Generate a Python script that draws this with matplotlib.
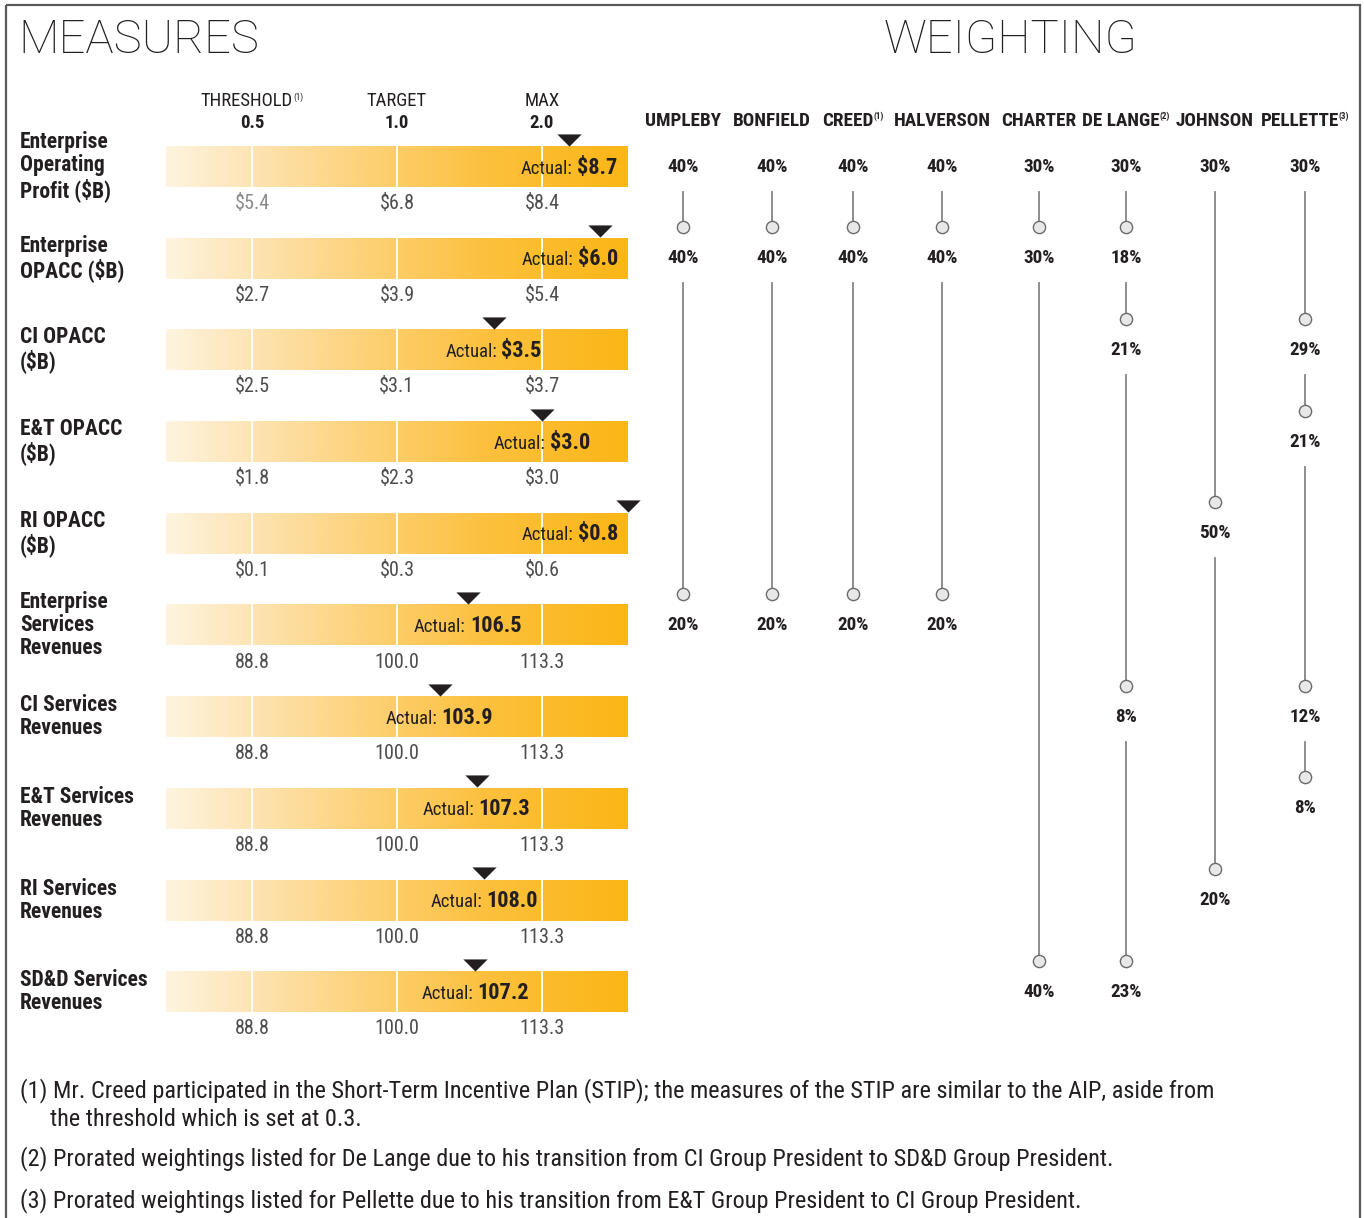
import numpy as np
import matplotlib
matplotlib.use("Agg")
import matplotlib.pyplot as plt
import matplotlib.font_manager as fm
from collections import defaultdict
from matplotlib.colors import LinearSegmentedColormap
from matplotlib.offsetbox import TextArea, HPacker, AnnotationBbox
from matplotlib.patches import Rectangle

# ---------------- data ----------------
measures = [
    "Enterprise\nOperating\nProfit ($B)",
    "Enterprise\nOPACC ($B)",
    "CI OPACC\n($B)",
    "E&T OPACC\n($B)",
    "RI OPACC\n($B)",
    "Enterprise\nServices\nRevenues",
    "CI Services\nRevenues",
    "E&T Services\nRevenues",
    "RI Services\nRevenues",
    "SD&D Services\nRevenues",
]
is_dollar = [True, True, True, True, True, False, False, False, False, False]
threshold = [5.4, 2.7, 2.5, 1.8, 0.1, 88.8, 88.8, 88.8, 88.8, 88.8]
target = [6.8, 3.9, 3.1, 2.3, 0.3, 100.0, 100.0, 100.0, 100.0, 100.0]
maximum = [8.4, 5.4, 3.7, 3.0, 0.6, 113.3, 113.3, 113.3, 113.3, 113.3]
actual = [8.7, 6.0, 3.5, 3.0, 0.8, 106.5, 103.9, 107.3, 108.0, 107.2]

levels = ["THRESHOLD", "TARGET", "MAX"]
level_notes = ["(1)", "", ""]
payouts = ["0.5", "1.0", "2.0"]

people = ["UMPLEBY", "BONFIELD", "CREED", "HALVERSON", "CHARTER", "DE LANGE", "JOHNSON", "PELLETTE"]
people_notes = ["", "", "(1)", "", "", "(2)", "", "(3)"]
# measure index where each weighting starts, and the weighting itself
weight_rows = [
    [0, 1, 5],
    [0, 1, 5],
    [0, 1, 5],
    [0, 1, 5],
    [0, 1, 9],
    [0, 1, 2, 6, 9],
    [0, 4, 8],
    [0, 2, 3, 6, 7],
]
weight_pct = [
    [40, 40, 20],
    [40, 40, 20],
    [40, 40, 20],
    [40, 40, 20],
    [30, 30, 40],
    [30, 18, 21, 8, 23],
    [30, 50, 20],
    [30, 29, 21, 12, 8],
]

footnotes = [
    "(1) Mr. Creed participated in the Short-Term Incentive Plan (STIP); the measures of the STIP are similar to the AIP, aside from",
    "the threshold which is set at 0.3.",
    "(2) Prorated weightings listed for De Lange due to his transition from CI Group President to SD&D Group President.",
    "(3) Prorated weightings listed for Pellette due to his transition from E&T Group President to CI Group President.",
]

# ---------------- fonts ----------------
weights_by_family = defaultdict(set)
for f in fm.fontManager.ttflist:
    weights_by_family[f.name].add(f.weight)


def has_bold(name):
    w = weights_by_family.get(name, set())
    return any(x in (400, "normal", "regular") for x in w) and any(x in (700, "bold") for x in w)


preferred = ["Roboto Condensed", "Fira Sans Condensed", "PT Sans Narrow", "Archivo Narrow",
             "IBM Plex Sans Condensed", "Encode Sans Condensed", "Asap Condensed",
             "Barlow Semi Condensed", "Liberation Sans Narrow"]
narrow = next((n for n in preferred if has_bold(n)), None)
if narrow is None:
    narrow = next((n for n in sorted(weights_by_family)
                   if ("Condensed" in n or "Narrow" in n) and has_bold(n)), "Roboto")
NARROW = dict(family=narrow)
TITLE_FONT = "Roboto" if "Roboto" in weights_by_family else "DejaVu Sans"
INK = "#231f20"

# ---------------- layout (pixels) ----------------
W, H = 1364, 1218
X_LEVELS = [252, 397, 542]
BAR_L, BAR_R = 166, 628
ROW0, ROW_STEP, BAR_H = 166.5, 91.7, 41
COL_X = [683, 772, 853, 942, 1039, 1126, 1215, 1305]

fig = plt.figure(figsize=(W / 100, H / 100), dpi=100)
ax = fig.add_axes([0, 0, 1, 1])

bar_cmap = LinearSegmentedColormap.from_list(
    "bar", [(0, "#fef4df"), (0.2, "#fde3b0"), (0.45, "#fdd073"),
            (0.7, "#fcc03c"), (1, "#fbb616")])
gradient = np.linspace(0, 1, 256).reshape(1, -1)


def to_x(v, thr, tgt, mx):
    if v <= tgt:
        x = X_LEVELS[0] + (v - thr) / (tgt - thr) * (X_LEVELS[1] - X_LEVELS[0])
    else:
        x = X_LEVELS[1] + (v - tgt) / (mx - tgt) * (X_LEVELS[2] - X_LEVELS[1])
    return min(max(x, BAR_L), BAR_R)


def fmt(v, dollar):
    return f"${v:.1f}" if dollar else f"{v:.1f}"


def label_with_note(text, note, xy, size, weight, note_size, color=INK):
    parts = [TextArea(text, textprops=dict(size=size, weight=weight, color=color, **NARROW))]
    if note:
        parts.append(TextArea(note, textprops=dict(size=note_size, weight=weight, color=color, **NARROW)))
    box = HPacker(children=parts, align="top", pad=0, sep=0)
    ax.add_artist(AnnotationBbox(box, xy, frameon=False, pad=0, box_alignment=(0.5, 0.5)))


# titles
ax.text(18, 40, "MEASURES", fontsize=34, family=TITLE_FONT, weight="light", color=INK, va="center")
ax.text(884, 40, "WEIGHTING", fontsize=34, family=TITLE_FONT, weight="light", color=INK, va="center")

# level headers
for x, lev, note, pay in zip(X_LEVELS, levels, level_notes, payouts):
    label_with_note(lev, note, (x, 101), 13.5, "normal", 6.5)
    ax.text(x, 123, pay, fontsize=13.5, weight="bold", color=INK, ha="center", va="center", **NARROW)

# measure rows
for i, name in enumerate(measures):
    y = ROW0 + i * ROW_STEP
    ax.text(20, y, name, fontsize=15.5, weight="bold", color=INK, va="center",
            linespacing=1.07, **NARROW)
    ax.imshow(gradient, cmap=bar_cmap, aspect="auto",
              extent=(BAR_L, BAR_R, y + BAR_H / 2, y - BAR_H / 2), zorder=1)

    thr, tgt, mx = threshold[i], target[i], maximum[i]
    for v in (thr, tgt, mx):
        xv = to_x(v, thr, tgt, mx)
        ax.plot([xv, xv], [y - BAR_H / 2, y + BAR_H / 2], color="white", lw=1.3, zorder=2)
    for k, v in enumerate((thr, tgt, mx)):
        col = "#8a8a8a" if (i == 0 and k == 0) else "#4d4d4d"
        ax.text(to_x(v, thr, tgt, mx), y + 37, fmt(v, is_dollar[i]), fontsize=14.5,
                color=col, ha="center", va="center", **NARROW)

    xa = to_x(actual[i], thr, tgt, mx)
    ax.plot(xa, y - BAR_H / 2 - 6.5, marker=[(-1, 0.5), (1, 0.5), (0, -0.5)],
            markersize=17.5, color=INK, mew=0, zorder=3)

    box = HPacker(children=[
        TextArea("Actual:", textprops=dict(size=13.5, color=INK, **NARROW)),
        TextArea(fmt(actual[i], is_dollar[i]), textprops=dict(size=16, weight="bold", color=INK, **NARROW)),
    ], align="baseline", pad=0, sep=3)
    if xa > 575:
        ab = AnnotationBbox(box, (618, y + 1), frameon=False, pad=0, box_alignment=(1, 0.5))
    else:
        ab = AnnotationBbox(box, (xa, y + 1), frameon=False, pad=0, box_alignment=(0.5, 0.5))
    ab.set_zorder(4)
    ax.add_artist(ab)

# weighting columns
for x, person, note, rows, pcts in zip(COL_X, people, people_notes, weight_rows, weight_pct):
    label_with_note(person, note, (x, 121), 13.8, "bold", 6.5)
    ys = [ROW0 + r * ROW_STEP for r in rows]
    for j, (yy, p) in enumerate(zip(ys, pcts)):
        ax.text(x, yy, f"{p}%", fontsize=13.8, weight="bold", color=INK, ha="center", va="center", **NARROW)
        if j + 1 < len(ys):
            y_next = ys[j + 1] - 31
            ax.plot([x, x], [yy + 25, y_next], color="#858585", lw=1.3, zorder=1)
            ax.plot(x, y_next, "o", markersize=8.8, markerfacecolor="#e8e8e8",
                    markeredgecolor="#6b6b6b", mew=1, zorder=2)

# footnotes
foot_xy = [(20, 1091), (50, 1120), (20, 1159), (20, 1201)]
for (fx, fy), note in zip(foot_xy, footnotes):
    ax.text(fx, fy, note, fontsize=17.5, color=INK, va="center", **NARROW)

# outer frame
ax.add_patch(Rectangle((6, 5), 1354, 1400, fill=False, edgecolor="#5a5a5a", lw=1.6, zorder=5))

ax.set_xlim(0, W)
ax.set_ylim(H, 0)
ax.axis("off")
fig.savefig("out.png", dpi=100)
